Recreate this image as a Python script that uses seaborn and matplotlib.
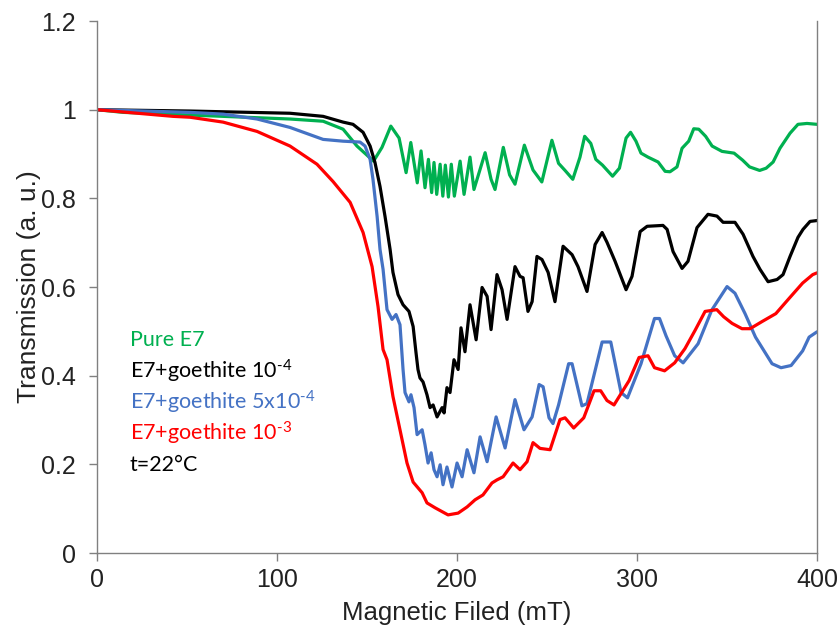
import pandas as pd
import matplotlib
matplotlib.use('Agg')
import matplotlib.pyplot as plt
import seaborn as sns

# Transmission vs magnetic field
pure_x = [0, 14.4, 70, 107.2, 125.6, 136.7, 144.4, 153.6, 158.3, 163.2, 167.8, 171.7, 174.3,
          177.9, 180.0, 182.2, 184.1, 185.9, 187.2, 188.7, 190.6, 192.1, 193.5, 195.2, 196.8,
          198.5, 201.7, 203.9, 207.2, 209.4, 215.6, 218.9, 221.1, 225.7, 229.2, 232.2, 237.4,
          242.2, 247.1, 252.7, 256.4, 260.0, 264.3, 268.3, 270.9, 274.3, 277.1, 280.8, 286.4,
          290.2, 293.9, 296.4, 299.4, 302.2, 306.1, 311.7, 315.6, 318.3, 322.2, 325.0, 328.7,
          331.5, 334.3, 338.1, 341.7, 347.2, 353.9, 358.7, 362.5, 368.1, 371.7, 375.6, 379.4,
          385.0, 389.4, 394.4, 400]
pure_y = [1.0, 0.994, 0.985, 0.979, 0.974, 0.956, 0.918, 0.884, 0.915, 0.963, 0.936, 0.858, 0.926,
          0.835, 0.907, 0.824, 0.888, 0.813, 0.881, 0.809, 0.877, 0.805, 0.875, 0.803, 0.877,
          0.805, 0.884, 0.809, 0.893, 0.820, 0.903, 0.843, 0.820, 0.915, 0.853, 0.832, 0.920,
          0.864, 0.837, 0.931, 0.879, 0.863, 0.843, 0.893, 0.940, 0.924, 0.888, 0.875, 0.850,
          0.868, 0.936, 0.949, 0.929, 0.902, 0.893, 0.882, 0.861, 0.860, 0.871, 0.913, 0.929,
          0.957, 0.956, 0.940, 0.918, 0.906, 0.902, 0.886, 0.871, 0.863, 0.868, 0.882, 0.913,
          0.947, 0.967, 0.969, 0.967]

g1_x = [0, 51.7, 107.2, 125.6, 136.7, 142.2, 147.8, 151.7, 154.4, 157.2, 160, 162.8, 164.4, 167.2,
        170, 173.3, 175.6, 177.2, 178.3, 179.4, 181.1, 183.3, 185, 186.7, 188.9, 191.7, 192.8,
        194.4, 196.1, 198.3, 200.6, 202.2, 204.4, 207.2, 210.6, 213.9, 216.7, 218.9, 222.2, 225,
        227.8, 232.2, 235, 236.7, 239.4, 241.7, 244.4, 247.2, 250.6, 254.4, 258.9, 263.9, 267.2,
        272.2, 276.7, 280.6, 283.3, 287.8, 293.9, 297.2, 301.7, 305.6, 314.4, 316.7, 320, 325,
        328.3, 333.3, 339.4, 344.4, 347.8, 354.4, 358.9, 364.4, 368.3, 372.8, 377.8, 381.1, 385,
        389.4, 392.2, 396.1, 400]
g1_y = [1.0, 0.997, 0.992, 0.985, 0.972, 0.967, 0.949, 0.918, 0.881, 0.827, 0.759, 0.685, 0.633,
        0.583, 0.560, 0.545, 0.511, 0.452, 0.414, 0.395, 0.386, 0.357, 0.328, 0.334, 0.307, 0.328,
        0.316, 0.373, 0.362, 0.436, 0.414, 0.508, 0.454, 0.560, 0.481, 0.599, 0.579, 0.504, 0.628,
        0.594, 0.527, 0.646, 0.624, 0.621, 0.545, 0.567, 0.669, 0.662, 0.633, 0.567, 0.692, 0.673,
        0.646, 0.590, 0.696, 0.723, 0.701, 0.658, 0.594, 0.624, 0.725, 0.737, 0.739, 0.730, 0.680,
        0.642, 0.658, 0.734, 0.764, 0.760, 0.746, 0.746, 0.719, 0.669, 0.640, 0.612, 0.617, 0.628,
        0.669, 0.712, 0.730, 0.748, 0.750]

g5_x = [0, 51.7, 70, 88.9, 107.2, 125.6, 136.7, 146.1, 148.9, 151.7, 153.3, 155.6, 157.2, 158.9,
        161.1, 163.9, 166.1, 168.3, 170, 171.1, 173.3, 174.4, 176.1, 177.8, 180.6, 182.2, 183.9,
        185.6, 187.2, 188.9, 190.6, 192.2, 194.4, 197.2, 200, 202.8, 205.6, 209.4, 212.8, 216.7,
        221.7, 226.7, 232.2, 237.2, 241.7, 245.6, 247.8, 251.1, 253.3, 256.4, 262, 263.9, 269.4,
        272.2, 280.6, 285.4, 291.1, 294.7, 302.2, 309.7, 312.5, 316.1, 320.9, 325.6, 333.9, 341.5,
        350, 354.4, 360, 365.8, 375, 380, 385.6, 392, 395.6, 400]
g5_y = [1.0, 0.994, 0.990, 0.979, 0.960, 0.933, 0.929, 0.927, 0.918, 0.888, 0.843, 0.759, 0.685,
        0.640, 0.549, 0.527, 0.538, 0.515, 0.414, 0.362, 0.341, 0.357, 0.328, 0.267, 0.278, 0.244,
        0.203, 0.226, 0.188, 0.172, 0.199, 0.154, 0.194, 0.149, 0.203, 0.172, 0.233, 0.181, 0.262,
        0.206, 0.307, 0.237, 0.346, 0.278, 0.307, 0.380, 0.375, 0.305, 0.292, 0.334, 0.427, 0.427,
        0.332, 0.337, 0.476, 0.476, 0.362, 0.350, 0.427, 0.529, 0.529, 0.490, 0.445, 0.429, 0.472,
        0.548, 0.601, 0.586, 0.540, 0.487, 0.427, 0.418, 0.423, 0.456, 0.487, 0.499]

g10_x = [0, 42.2, 51.7, 70, 88.9, 107.2, 122.2, 131.1, 140.6, 147.8, 152.8, 156.1, 158.9, 161.1,
         164.4, 168.3, 172.2, 175.6, 180.6, 183.3, 187.8, 195, 200.6, 205.6, 210, 214.4, 219.4,
         222.2, 225.6, 231.1, 235, 238.9, 242.2, 246.1, 251.7, 257.2, 260, 264.8, 270.4, 276.1,
         279.8, 283.3, 287.2, 295.6, 301.1, 306.1, 309.7, 315.3, 320.9, 326.6, 332.2, 337.8,
         344.3, 348.1, 352.8, 358.3, 362.8, 369.4, 377.1, 384.4, 392, 397.6, 400]
g10_y = [1.0, 0.985, 0.983, 0.972, 0.951, 0.918, 0.877, 0.838, 0.791, 0.723, 0.646, 0.556, 0.459,
         0.436, 0.353, 0.278, 0.203, 0.160, 0.136, 0.113, 0.102, 0.086, 0.090, 0.104, 0.120, 0.131,
         0.158, 0.165, 0.172, 0.203, 0.188, 0.206, 0.249, 0.236, 0.233, 0.301, 0.305, 0.282, 0.305,
         0.366, 0.366, 0.344, 0.334, 0.389, 0.441, 0.445, 0.418, 0.411, 0.429, 0.461, 0.502, 0.545,
         0.549, 0.533, 0.518, 0.506, 0.506, 0.522, 0.540, 0.574, 0.609, 0.628, 0.632]

labels = ['Pure E7', 'E7+goethite 10$^{\u2010 4}$', 'E7+goethite 5x10$^{\u2010 4}$',
          'E7+goethite 10$^{\u2010 3}$', 't=22°C']
label_colors = ['#00B050', 'black', '#4472C4', '#FF0000', 'black']

sns.set_style('white')
plt.rcParams['font.family'] = ['Liberation Sans', 'DejaVu Sans']
plt.rcParams['mathtext.default'] = 'regular'

fig = plt.figure(figsize=(8.38, 6.3), dpi=100)
ax = fig.add_axes([0.1158, 0.1222, 0.8592, 0.8444])

sns.lineplot(x=pure_x, y=pure_y, color='#00B050', lw=2.3, sort=False, ax=ax)
sns.lineplot(x=g1_x, y=g1_y, color='black', lw=2.3, sort=False, ax=ax)
sns.lineplot(x=g5_x, y=g5_y, color='#4472C4', lw=2.3, sort=False, ax=ax)
sns.lineplot(x=g10_x, y=g10_y, color='#FF0000', lw=2.3, sort=False, ax=ax)

ax.set_xlim(0, 400)
ax.set_ylim(0, 1.2)
ax.set_xticks([0, 100, 200, 300, 400])
ax.set_yticks([0, 0.2, 0.4, 0.6, 0.8, 1.0, 1.2])
ax.set_yticklabels(['0', '0.2', '0.4', '0.6', '0.8', '1', '1.2'])
ax.tick_params(axis='both', direction='out', length=6, width=1, color='#808080',
               labelsize=18, labelcolor='#222222', bottom=True, left=True)
ax.tick_params(axis='y', pad=9)
ax.tick_params(axis='x', pad=5)
ax.set_xlabel('Magnetic Filed (mT)', fontsize=18.5, labelpad=6, color='#222222')
ax.set_ylabel('Transmission (a. u.)', fontsize=19, labelpad=0, color='#222222')

for side in ['left', 'bottom', 'right']:
    ax.spines[side].set_color('#808080')
    ax.spines[side].set_linewidth(1)
ax.spines['top'].set_visible(False)

for i, (txt, c) in enumerate(zip(labels, label_colors)):
    ax.text(18.3, 0.481 - i * 0.0705, txt, color=c, fontsize=15.5, va='center', ha='left',
            family=['Lato', 'DejaVu Sans'])

fig.savefig('out.png', dpi=100)
